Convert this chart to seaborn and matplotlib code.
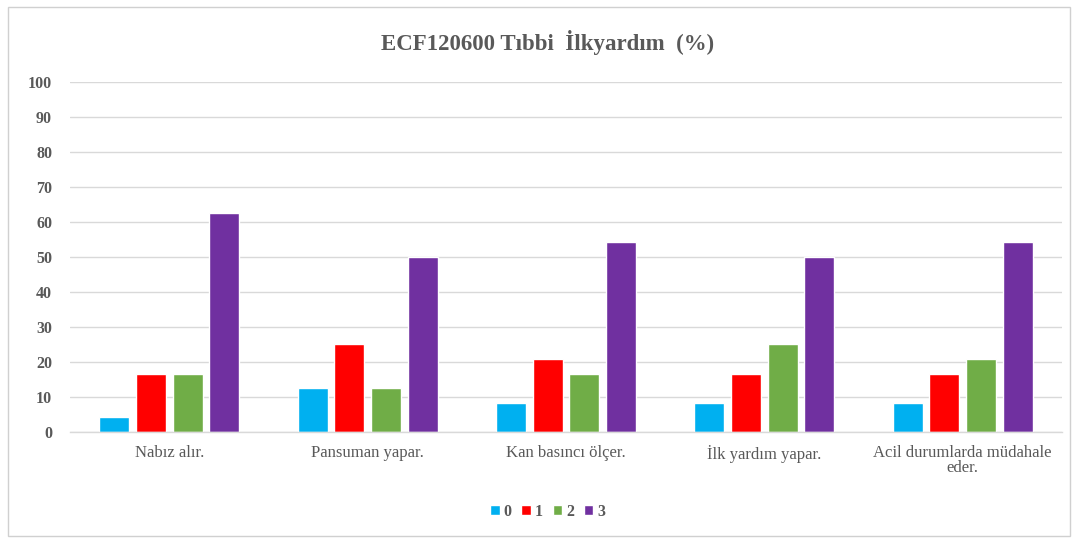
import matplotlib.pyplot as plt
import pandas as pd
import seaborn as sns
from matplotlib.patches import Rectangle

CATEGORIES = [
    "Nabız alır.",
    "Pansuman yapar.",
    "Kan basıncı ölçer.",
    "İlk yardım yapar.",
    "Acil durumlarda müdahale\neder.",
]
LEVELS = ["0", "1", "2", "3"]
SCORE_0 = [4.17, 12.5, 8.33, 8.33, 8.33]
SCORE_1 = [16.67, 25.0, 20.83, 16.67, 16.67]
SCORE_2 = [16.67, 12.5, 16.67, 25.0, 20.83]
SCORE_3 = [62.5, 50.0, 54.17, 50.0, 54.17]
Y_TICKS = [0, 10, 20, 30, 40, 50, 60, 70, 80, 90, 100]
TITLE = "ECF120600 Tıbbi  İlkyardım  (%)"

COLORS = ["#00b0f0", "#ff0000", "#70ad47", "#7030a0"]
TEXT_COLOR = "#595959"
GRID_COLOR = "#d9d9d9"


def build_frame():
    rows = []
    for level, values in zip(LEVELS, [SCORE_0, SCORE_1, SCORE_2, SCORE_3]):
        for cat, v in zip(CATEGORIES, values):
            rows.append({"category": cat, "level": level, "value": v})
    return pd.DataFrame(rows)


def main():
    sns.set_theme(style="white")
    plt.rcParams["font.family"] = ["Liberation Serif", "DejaVu Serif"]

    df = build_frame()
    fig = plt.figure(figsize=(10.78, 5.43), dpi=100)
    ax = fig.add_axes([0.065, 0.2044, 0.92, 0.645])

    sns.barplot(
        data=df, x="category", y="value", hue="level",
        palette=COLORS, saturation=1, width=0.74, gap=0.18, ax=ax, legend=True,
    )

    ax.set_ylim(0, 100)
    ax.set_yticks(Y_TICKS)
    ax.yaxis.grid(True, color=GRID_COLOR, linewidth=1)
    ax.set_axisbelow(True)
    for side in ["top", "right", "left"]:
        ax.spines[side].set_visible(False)
    ax.spines["bottom"].set_color(GRID_COLOR)
    ax.spines["bottom"].set_linewidth(1)
    ax.tick_params(axis="both", length=0, colors=TEXT_COLOR)
    ax.tick_params(axis="y", pad=13)
    ax.tick_params(axis="x", pad=9)
    for lbl in ax.get_yticklabels():
        lbl.set_fontweight("bold")
        lbl.set_fontsize(11.5)
    for lbl in ax.get_xticklabels():
        lbl.set_fontsize(12)
        lbl.set_linespacing(0.95)
    ax.set_xlabel("")
    ax.set_ylabel("")

    fig.text(0.508, 0.922, TITLE, ha="center", va="center",
             fontsize=16.5, fontweight="bold", color=TEXT_COLOR)

    handles, labels = ax.get_legend_handles_labels()
    ax.get_legend().remove()
    leg = fig.legend(
        handles, labels, loc="center", bbox_to_anchor=(0.508, 0.058),
        ncol=4, frameon=False, handlelength=0.6, handleheight=0.6,
        handletextpad=0.25, columnspacing=0.6,
        prop={"weight": "bold", "size": 11.5},
    )
    for t in leg.get_texts():
        t.set_color(TEXT_COLOR)

    fig.patches.append(Rectangle((0.007, 0.012), 0.986, 0.976, transform=fig.transFigure,
                                 fill=False, edgecolor="#d0d0d0", linewidth=1))

    fig.savefig("out.png", dpi=100, facecolor="white")


if __name__ == "__main__":
    main()
